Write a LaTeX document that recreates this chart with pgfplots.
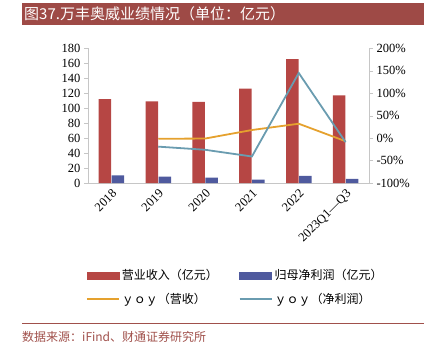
\documentclass[border=0pt]{standalone}
\usepackage{pgfplots}
\pgfplotsset{compat=1.18}
\usepackage{fontspec}
\setmainfont{Liberation Serif}
\newfontfamily\cjk{Noto Sans CJK SC}
\definecolor{barred}{HTML}{B64644}
\definecolor{barblue}{HTML}{4F5A9E}
\definecolor{lineyel}{HTML}{E5A12E}
\definecolor{lineteal}{HTML}{6A9CB0}
\definecolor{titlered}{HTML}{9E4A46}
\definecolor{srcred}{HTML}{A0504B}
\begin{document}
\begin{tikzpicture}
\path[use as bounding box] (0pt,0pt) rectangle (430pt,-352pt);
\fill[titlered] (22pt,-3pt) rectangle (424pt,-25pt);
\node[anchor=west, white, font=\cjk\fontsize{15}{18}\selectfont, inner sep=0pt] at (24pt,-14pt) {图37.万丰奥威业绩情况（单位：亿元）};
\begin{axis}[
  at={(88pt,-183pt)}, anchor=south west,
  scale only axis, width=281pt, height=134.7pt,
  xmin=-0.5, xmax=5.5, ymin=0, ymax=180,
  axis x line*=bottom, axis y line*=left,
  axis line style={gray!45},
  xtick={0,1,2,3,4,5},
  xticklabels={2018,2019,2020,2021,2022,2023Q1—Q3},
  x tick label style={rotate=45, anchor=north east, inner sep=1pt},
  ytick={0,20,...,180},
  tick align=outside, major tick length=4pt,
  tick style={gray!45},
  xtick style={draw=none},
  ticklabel style={font=\fontsize{12.5}{14}\selectfont},
  /pgf/number format/assume math mode=true,
  clip=false,
]
\addplot[ybar, bar width=12.5pt, bar shift=-6.5pt, fill=barred, draw=none]
  coordinates {(0,112) (1,109.2) (2,108.3) (3,126) (4,165.4) (5,117.2)};
\addplot[ybar, bar width=12.5pt, bar shift=6.5pt, fill=barblue, draw=none]
  coordinates {(0,10.3) (1,8.5) (2,7.1) (3,4.5) (4,9.4) (5,5.6)};
\end{axis}
\begin{axis}[
  at={(88pt,-183pt)}, anchor=south west,
  scale only axis, width=281pt, height=134.7pt,
  xmin=-0.5, xmax=5.5, ymin=-100, ymax=200,
  axis x line=none, axis y line*=right,
  axis line style={gray!45},
  ytick={-100,-50,...,200},
  yticklabel={\pgfmathprintnumber{\tick}\%},
  tick align=outside, major tick length=4pt,
  tick style={gray!45},
  ticklabel style={font=\fontsize{12.5}{14}\selectfont},
  /pgf/number format/assume math mode=true,
  clip=false,
  legend columns=2,
  legend style={at={(-0.008,-0.625)}, anchor=north west, draw=none, fill=none,
    inner sep=0pt, row sep=8pt,
    font=\cjk\fontsize{12}{14}\selectfont,
    nodes={inner sep=2pt},
    /tikz/every even column/.append style={column sep=19pt}},
  legend cell align=left,
]
\addlegendimage{legend image code/.code={\fill[barred] (0pt,-3.5pt) rectangle (32pt,3.5pt);}}
\addlegendentry{营业收入（亿元）}
\addlegendimage{legend image code/.code={\fill[barblue] (0pt,-3.5pt) rectangle (32pt,3.5pt);}}
\addlegendentry{归母净利润（亿元）}
\addplot[color=lineyel, line width=1.8pt, mark=none,
  legend image code/.code={\draw[lineyel, line width=1.8pt] (0pt,0pt) -- (32pt,0pt);}]
  coordinates {(1,-1.5) (2,-1) (3,18) (4,32) (5,-7)};
\addlegendentry{ｙｏｙ（营收）}
\addplot[color=lineteal, line width=1.8pt, mark=none,
  legend image code/.code={\draw[lineteal, line width=1.8pt] (0pt,0pt) -- (32pt,0pt);}]
  coordinates {(1,-19) (2,-26) (3,-41) (4,145) (5,-9)};
\addlegendentry{ｙｏｙ（净利润）}
\end{axis}
\draw[srcred, line width=0.7pt] (22pt,-323pt) -- (424pt,-323pt);
\node[anchor=west, srcred, font=\cjk\fontsize{12}{14}\selectfont, inner sep=0pt] at (22pt,-337pt) {数据来源：iFind、财通证券研究所};
\end{tikzpicture}
\end{document}
